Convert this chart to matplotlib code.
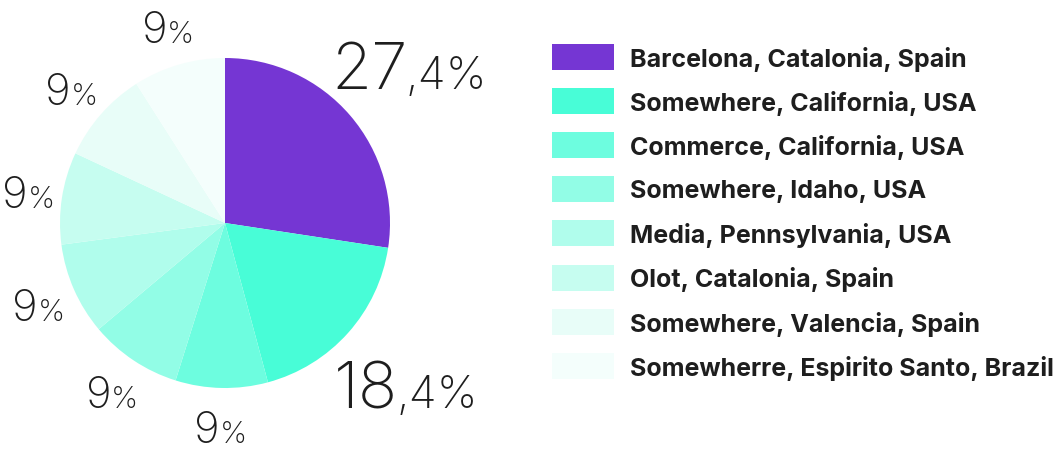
import matplotlib
matplotlib.use("Agg")
import matplotlib.pyplot as plt
from matplotlib.patches import Rectangle
import numpy as np

categories = [
    "Barcelona, Catalonia, Spain",
    "Somewhere, California, USA",
    "Commerce, California, USA",
    "Somewhere, Idaho, USA",
    "Media, Pennsylvania, USA",
    "Olot, Catalonia, Spain",
    "Somewhere, Valencia, Spain",
    "Somewherre, Espirito Santo, Brazil",
]
values = [27.4, 18.4, 9.03, 9.03, 9.03, 9.03, 9.03, 9.03]
label_big = ["27", "18", "9", "9", "9", "9", "9", "9"]
label_small = [",4%", ",4%", "%", "%", "%", "%", "%", "%"]
colors = ["#7536D3", "#48FDD7", "#6DFDDF", "#92FDE6", "#B0FDEC",
          "#C6FDF0", "#E8FDF8", "#F4FEFC"]

W, H = 1057, 450
fig = plt.figure(figsize=(W / 100, H / 100), dpi=100)
ax = fig.add_axes([0, 0, 1, 1])

cx, cy, R = 225, 227, 165
wedges, _ = ax.pie(values, colors=colors, startangle=90, counterclock=False,
                   center=(cx, cy), radius=R,
                   wedgeprops=dict(linewidth=0))
ax.set_xlim(0, W)
ax.set_ylim(0, H)
ax.set_aspect("equal")
ax.axis("off")

text_color = "#1e1e1e"
fig.canvas.draw()
renderer = fig.canvas.get_renderer()

for i, w in enumerate(wedges):
    mid = np.deg2rad((w.theta1 + w.theta2) / 2)
    big = values[i] > 15
    r = R * (1.47 if big else 1.235)
    tx = cx + r * np.cos(mid)
    ty = cy + r * np.sin(mid)
    s1 = 47 if big else 31.5
    s2 = 33 if big else 22
    t1 = ax.text(0, 0, label_big[i], fontsize=s1, family="Inter",
                 fontweight="light", color=text_color, ha="left", va="baseline")
    t2 = ax.text(0, 0, label_small[i], fontsize=s2, family="Inter",
                 fontweight="light", color=text_color, ha="left", va="baseline")
    b1 = t1.get_window_extent(renderer)
    b2 = t2.get_window_extent(renderer)
    gap = -2 if big else 0
    total_w = b1.width + b2.width + gap
    digit_h = s1 / 72 * 100 * 0.727
    x0 = max(tx - total_w / 2, 2)
    base = ty - digit_h / 2
    t1.set_position((x0, base))
    t2.set_position((x0 + b1.width + gap, base))

# legend
lx, lw, lh = 552, 62, 26
top0 = 44
step = 44.1
for i, (cat, col) in enumerate(zip(categories, colors)):
    top = top0 + i * step
    y_top = H - top
    ax.add_patch(Rectangle((lx, y_top - lh), lw, lh, facecolor=col,
                           edgecolor="none"))
    ax.text(630, y_top - lh / 2, cat, fontsize=18, family="Inter",
            fontweight="bold", color=text_color, ha="left",
            va="center_baseline")

fig.savefig("out.png", dpi=100)
